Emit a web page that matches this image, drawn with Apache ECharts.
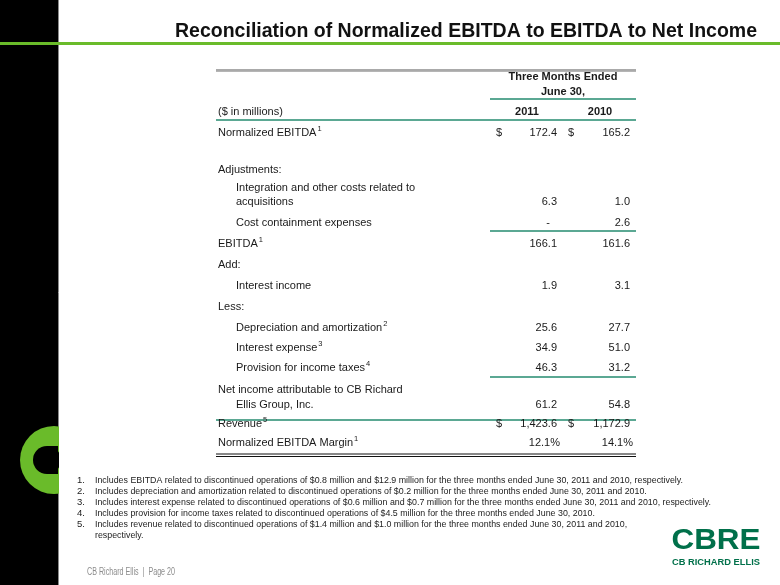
<!DOCTYPE html>
<html><head><meta charset="utf-8">
<script src="https://cdn.jsdelivr.net/npm/echarts@6/dist/echarts.min.js"></script>
<style>html,body{margin:0;padding:0;background:#fff}#c{width:780px;height:585px}</style>
</head><body><div id="c"></div>
<script>
// ---------- data ----------
const titleText = 'Reconciliation of Normalized EBITDA to EBITDA to Net Income';
const headerPeriod = ['Three Months Ended', 'June 30,'];
const unitLabel = '($ in millions)';
const years = ['2011', '2010'];
const rowLabels = [
  'Normalized EBITDA', 'Adjustments:', 'Integration and other costs related to', 'acquisitions',
  'Cost containment expenses', 'EBITDA', 'Add:', 'Interest income', 'Less:',
  'Depreciation and amortization', 'Interest expense', 'Provision for income taxes',
  'Net income attributable to CB Richard', 'Ellis Group, Inc.', 'Revenue', 'Normalized EBITDA Margin'
];
const rowNotes = [1, null, null, null, null, 1, null, null, null, 2, 3, 4, null, null, 5, 1];
const rowIndented = [false, false, true, true, true, false, false, true, false, true, true, true, false, true, false, false];
const rowKinds = ['dollar', '', '', 'num', 'num', 'num', '', 'num', '', 'num', 'num', 'num', '', 'num', 'dollar', 'pct'];
const values2011 = [172.4, null, null, 6.3, 0, 166.1, null, 1.9, null, 25.6, 34.9, 46.3, null, 61.2, 1423.6, 12.1];
const values2010 = [165.2, null, null, 1.0, 2.6, 161.6, null, 3.1, null, 27.7, 51.0, 31.2, null, 54.8, 1172.9, 14.1];
const footnotes = [
  'Includes EBITDA related to discontinued operations of $0.8 million and $12.9 million for the three months ended June 30, 2011 and 2010, respectively.',
  'Includes depreciation and amortization related to discontinued operations of $0.2 million for the three months ended June 30, 2011 and 2010.',
  'Includes interest expense related to discontinued operations of $0.6 million and $0.7 million for the three months ended June 30, 2011 and 2010, respectively.',
  'Includes provision for income taxes related to discontinued operations of $4.5 million for the three months ended June 30, 2010.',
  'Includes revenue related to discontinued operations of $1.4 million and $1.0 million for the three months ended June 30, 2011 and 2010,',
  'respectively.'
];
const footerText = 'CB Richard Ellis  |  Page 20';
const logoText = ['CBRE', 'CB RICHARD ELLIS'];

// ---------- layout ----------
const rowY = [133, 170, 188, 202, 223, 244, 265, 286, 307, 328, 348, 368, 390, 405, 424, 443];
const FONT = '"Liberation Sans", Arial, sans-serif';
const TXT = '#1a1a1a';
const TEAL = '#5ba893';
const tableL = 216, tableR = 636, colL = 490;
const colRight = [557, 630];
const dollarX = [496, 568];

const ctx = document.createElement('canvas').getContext('2d');
function measure(text, font) { ctx.font = font; return ctx.measureText(text).width; }
function fmt(v) {
  if (v === 0) return '-';
  return v.toLocaleString('en-US', { minimumFractionDigits: 1, maximumFractionDigits: 1 });
}

const g = [];
// background decorations
g.push({ type: 'rect', shape: { x: 0, y: 0, width: 58, height: 585 }, style: { fill: '#000' }, silent: true });
g.push({ type: 'line', shape: { x1: 58.5, y1: 0, x2: 58.5, y2: 585 }, style: { stroke: '#8a8a8a', lineWidth: 1 } });
g.push({ type: 'circle', shape: { cx: 54, cy: 460, r: 34 }, style: { fill: '#6abb2a' } });
g.push({ type: 'circle', shape: { cx: 47, cy: 460, r: 14 }, style: { fill: '#000' } });
g.push({ type: 'rect', shape: { x: 47, y: 446, width: 11, height: 28 }, style: { fill: '#000' } });
g.push({ type: 'rect', shape: { x: 59, y: 420, width: 30, height: 80 }, style: { fill: '#fff' } });
g.push({ type: 'rect', shape: { x: 0, y: 42, width: 780, height: 3 }, style: { fill: '#6abb2a' } });

// title
const titleFont = 'bold 21px ' + FONT;
const titleScale = 582 / measure(titleText, titleFont);
g.push({ type: 'text', x: 757, y: 31, scaleX: titleScale,
  style: { text: titleText, font: titleFont, fill: '#111', align: 'right', verticalAlign: 'middle' } });

// table rules
function hline(x1, x2, y, color, w) {
  g.push({ type: 'line', shape: { x1: x1, y1: y, x2: x2, y2: y }, style: { stroke: color, lineWidth: w } });
}
hline(tableL, tableR, 70, '#555', 1);
hline(tableL, tableR, 71.5, '#b5b5b5', 1);
hline(colL, tableR, 99, TEAL, 2);
hline(tableL, tableR, 120, TEAL, 2);
hline(colL, tableR, 231, TEAL, 2);
hline(colL, tableR, 377, TEAL, 2);
hline(tableL, tableR, 420, TEAL, 2);
hline(tableL, tableR, 454, '#111', 1);
hline(tableL, tableR, 456.5, '#111', 1);

const bodyFont = '11px ' + FONT;
const boldFont = 'bold 11px ' + FONT;
const supFont = '7.5px ' + FONT;
function text(x, y, s, align, font, fill) {
  const el = { type: 'text', x: x, y: y,
    style: { text: s, font: font || bodyFont, fill: fill || TXT, align: align || 'left', verticalAlign: 'middle' } };
  g.push(el);
  return el;
}
// header
text(563, 77, headerPeriod[0], 'center', boldFont);
text(563, 92, headerPeriod[1], 'center', boldFont);
text(218, 112, unitLabel, 'left');
text(527, 112, years[0], 'center', boldFont);
text(600, 112, years[1], 'center', boldFont);

// rows
rowLabels.forEach(function (lab, i) {
  const x = rowIndented[i] ? 236 : 218;
  const y = rowY[i];
  text(x, y, lab, 'left');
  if (rowNotes[i] != null) {
    text(x + measure(lab, bodyFont) + 1, y - 4, String(rowNotes[i]), 'left', supFont);
  }
  const kind = rowKinds[i];
  if (!kind) return;
  [values2011[i], values2010[i]].forEach(function (v, c) {
    if (v == null) return;
    if (kind === 'dollar') text(dollarX[c], y, '$', 'left');
    if (v === 0) { text(colRight[c] - 9, y, fmt(v), 'center'); return; }
    if (kind === 'pct') { text(colRight[c] + 3, y, fmt(v) + '%', 'right'); return; }
    text(colRight[c], y, fmt(v), 'right');
  });
});

// footnotes
const fnFont = '9.5px ' + FONT;
const fnScale = 588 / measure(footnotes[0], fnFont);
const fnY = [480, 491, 502, 513, 524, 535];
footnotes.forEach(function (f, i) {
  if (i < 5) text(77, fnY[i], (i + 1) + '.', 'left', fnFont, '#222');
  const el = text(95, fnY[i], f, 'left', fnFont, '#222');
  el.scaleX = fnScale;
});

// footer
const ftFont = '10px ' + FONT;
const ftEl = text(87, 572, footerText, 'left', ftFont, '#8c8c8c');
ftEl.scaleX = 88 / measure(footerText, ftFont);

// logo
const logoFont = 'bold 29px ' + FONT;
const lg = text(716, 541, logoText[0], 'center', logoFont, '#00704a');
lg.scaleX = 89 / measure(logoText[0], logoFont);
const lg2Font = 'bold 9.5px ' + FONT;
const lg2 = text(716, 562, logoText[1], 'center', lg2Font, '#00704a');
lg2.scaleX = 88 / measure(logoText[1], lg2Font);

const chart = echarts.init(document.getElementById('c'), null, { renderer: 'canvas' });
chart.setOption({ backgroundColor: '#fff', animation: false, graphic: { elements: g } });
</script>
</body></html>
